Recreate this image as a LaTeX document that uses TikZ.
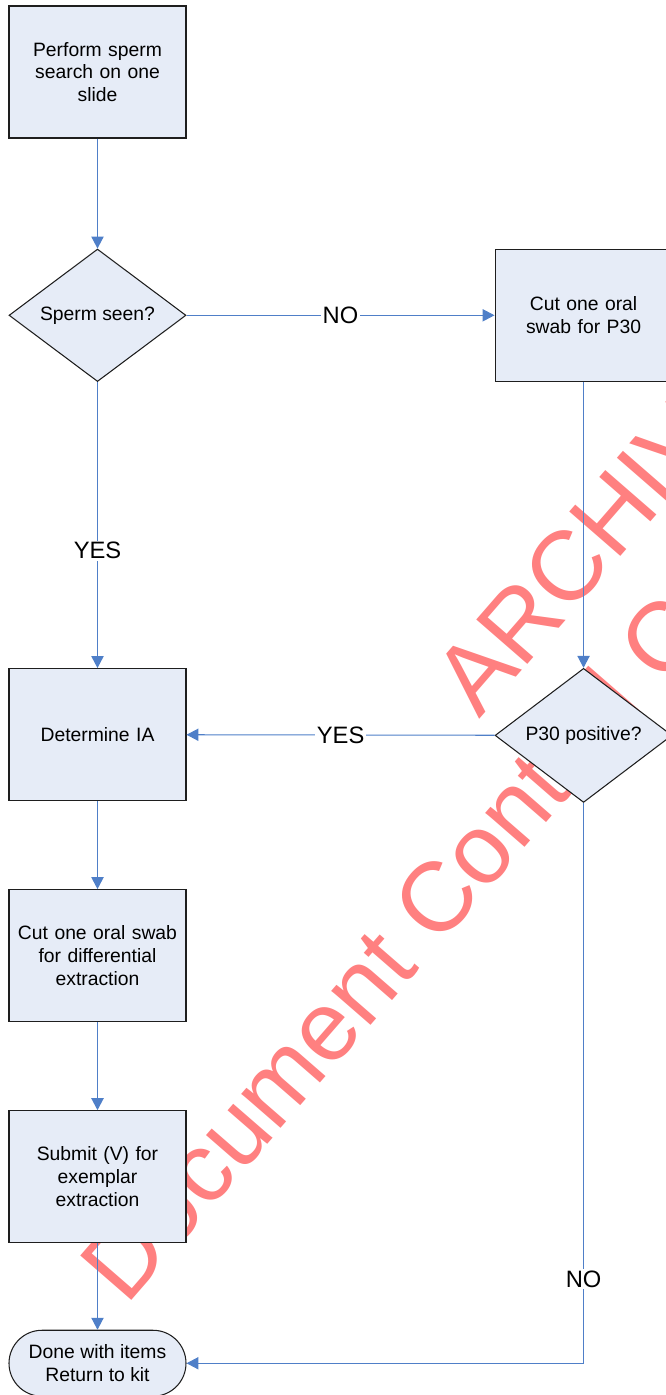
\documentclass[tikz,border=0pt]{standalone}
\usepackage{fontspec}
\setmainfont{Liberation Sans}
\usetikzlibrary{shapes.geometric,arrows.meta,positioning}
\definecolor{BoxFill}{HTML}{E6ECF7}
\definecolor{BoxLine}{HTML}{1E1E1E}
\definecolor{FlowBlue}{HTML}{4F7FC8}
\definecolor{StampRed}{HTML}{FF8080}
\tikzset{
  process/.style={rectangle,draw=BoxLine,fill=BoxFill,line width=0.6pt,minimum width=3.54cm,minimum height=2.64cm,text width=3.4cm,align=center,inner sep=0pt,font=\fontsize{11}{13}\selectfont},
  decision/.style={diamond,draw=BoxLine,fill=BoxFill,line width=0.6pt,minimum width=3.54cm,minimum height=2.64cm,inner sep=0pt,align=center,font=\fontsize{11}{13}\selectfont},
  terminal/.style={rectangle,rounded corners=0.66cm,draw=BoxLine,fill=BoxFill,line width=0.6pt,minimum width=3.54cm,minimum height=1.32cm,inner sep=0pt,align=center,font=\fontsize{11}{13}\selectfont},
  arrow/.style={-{Triangle[length=6.8pt,width=7pt]},line width=0.6pt,color=FlowBlue},
  answer/.style={fill=white,inner sep=1pt,text=black,font=\fontsize{13.5}{16}\selectfont},
  stamp/.style={text=StampRed,font=\fontsize{56}{62}\selectfont,rotate=49,anchor=base west,inner sep=0pt},
}
\begin{document}
\begin{tikzpicture}
  \useasboundingbox (0,0) rectangle (13.32,-27.9);
  \clip (0,0) rectangle (13.32,-27.9);
  % watermark, behind the chart
  \node[stamp] (wmtop) at (9.58,-14.40) {ARCHIVE};
  \node[stamp] (wmlow) at (2.52,-26.14) {Document Control Copy};

  \node[process] (search) at (1.95,-1.44) {Perform sperm\\search on one\\slide};
  \node[decision, below=2.20cm of search] (seen) {Sperm seen?};
  \node[process, right=6.16cm of seen] (p30cut) {Cut one oral\\swab for P30};
  \node[decision, below=5.72cm of p30cut] (p30pos) {P30 positive?};
  \node[process, below=5.72cm of seen] (ia) {Determine IA};
  \node[process, below=1.76cm of ia] (diffcut) {Cut one oral swab\\for differential\\extraction};
  \node[process, below=1.76cm of diffcut] (submit) {Submit (V) for\\exemplar\\extraction};
  \node[terminal, below=1.73cm of submit] (done) {Done with items\\Return to kit};

  \draw[arrow] (search) -- (seen);
  \draw[arrow] (seen) -- node[answer]{NO} (p30cut);
  \draw[arrow] (seen) -- node[answer, pos=0.59]{YES} (ia);
  \draw[arrow] (p30cut) -- (p30pos);
  \draw[arrow] (p30pos) -- node[answer]{YES} (ia);
  \draw[arrow] (ia) -- (diffcut);
  \draw[arrow] (diffcut) -- (submit);
  \draw[arrow] (submit) -- (done);
  \draw[arrow] (p30pos) |- node[answer, pos=0.425]{NO} (done);
\end{tikzpicture}
\end{document}
